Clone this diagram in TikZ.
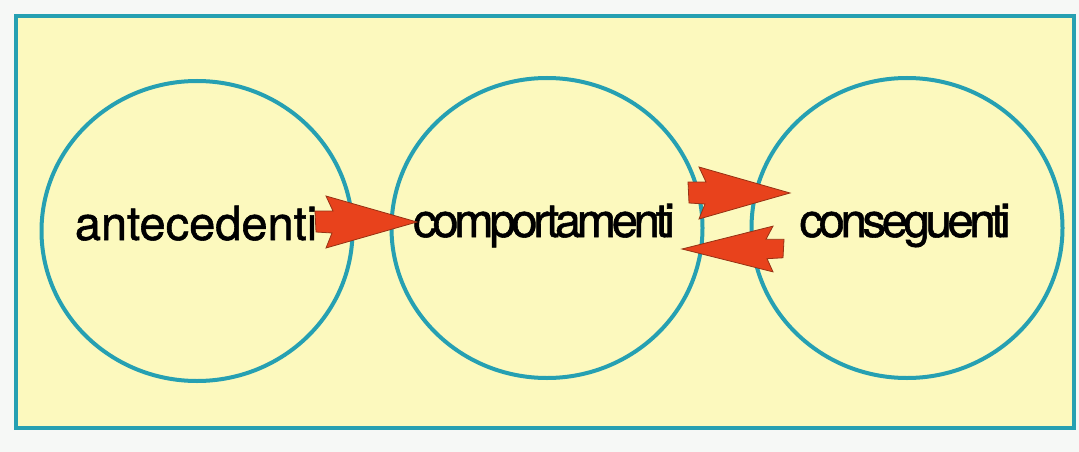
\documentclass[tikz,border=0pt]{standalone}
\usepackage{fontspec}
\setmainfont[FakeBold=1.2]{TeX Gyre Heros}
\newfontfamily\tightfont[LetterSpace=-9,FakeBold=1.2]{TeX Gyre Heros}
\usetikzlibrary{shapes.geometric}
\definecolor{bgyellow}{RGB}{252,249,190}
\definecolor{teal}{RGB}{38,160,178}
\definecolor{arrowred}{RGB}{232,66,28}
\definecolor{arrowedge}{RGB}{150,50,20}
\definecolor{paper}{RGB}{246,248,246}
\tikzset{
  ring/.style={draw=teal, line width=4pt, ellipse, minimum width=311pt, minimum height=300pt, inner sep=0pt},
  label/.style={anchor=base, inner sep=0pt, font=\fontsize{47}{50}\selectfont},
  tightlabel/.style={anchor=base, inner sep=0pt, font=\tightfont\fontsize{47}{50}\selectfont},
  redarrow/.style={fill=arrowred, draw=arrowedge, line width=0.8pt, line join=miter}
}
\newcommand{\arrowshape}{(-1,-26) -- (6,-11) -- (-12,-11) -- (-11,10) -- (5,11) -- (-1,26) -- (90,0) -- cycle}
\begin{document}
\begin{tikzpicture}[x=1pt,y=-1pt]
\useasboundingbox (0,0) rectangle (1079,452);
\fill[paper] (0,0) rectangle (1079,452);
\node[draw=teal, fill=bgyellow, line width=4pt, minimum width=1058pt, minimum height=412pt, inner sep=0pt] (frame) at (545,222) {};
\node[ring] (c1) at (197,231) {};
\node[ring] (c2) at (547,228) {};
\node[ring] (c3) at (907,228) {};
\node[label] (t1) at (196,240) {antecedenti};
\node[tightlabel] (t2) at (544,237) {comportamenti};
\node[tightlabel] (t3) at (905,237) {conseguenti};
\filldraw[redarrow, shift={(327,222)}] \arrowshape;
\filldraw[redarrow, shift={(700,193)}] \arrowshape;
\filldraw[redarrow, shift={(772,249)}, xscale=-1, yscale=0.88] \arrowshape;
\end{tikzpicture}
\end{document}
